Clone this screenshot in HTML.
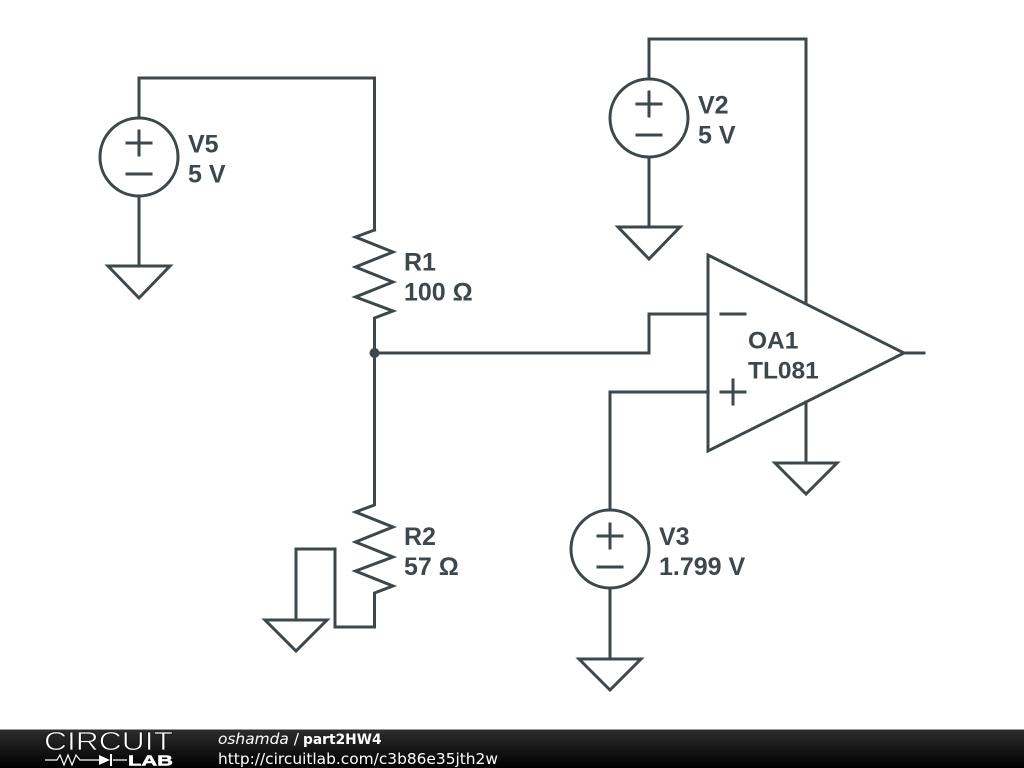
<!DOCTYPE html>
<html><head><meta charset="utf-8"><style>
html,body{margin:0;padding:0;background:#fff}
svg{display:block}
.w{fill:none;stroke:#3d474c;stroke-width:3;stroke-linejoin:miter;stroke-linecap:square}
.t{font-family:"Liberation Sans",sans-serif;font-weight:bold;font-size:25px;fill:#3d474c}
.o{font-size:24.500px}
.f{font-family:"DejaVu Sans",sans-serif;font-size:15.400px;fill:#fff}
</style></head><body>
<svg width="1024" height="768" viewBox="0 0 1024 768" xmlns="http://www.w3.org/2000/svg">
<defs><linearGradient id="g" x1="0" y1="0" x2="0" y2="1"><stop offset="0" stop-color="#2e2e2e"/><stop offset="1" stop-color="#000"/></linearGradient></defs>
<rect width="1024" height="768" fill="#fff"/>
<!-- V5 -->
<path class="w" d="M139 118V78H374.500V230"/>
<circle class="w" cx="139" cy="157" r="39"/>
<path class="w" d="M127 143H151M139 131V155M127 174H151M139 196V266"/>
<path class="w" d="M108 266H170L139 298Z"/>
<text class="t" x="188" y="152.500">V5</text><text class="t" x="188" y="182.500">5 V</text>
<!-- R1 -->
<path class="w" d="M374.500 230L355.500 237L393 252L355.500 267L393 282L355.500 297L393 311L374.500 318V353"/>
<text class="t" x="404" y="270.500">R1</text><text class="t" x="404" y="300.500">100 Ω</text>
<circle cx="374.500" cy="353" r="5" fill="#3d474c"/>
<!-- R2 -->
<path class="w" d="M374.500 353V505L355.500 512L393 527L355.500 542L393 557L355.500 571L393 586L374.500 593V627H335V549H296V620"/>
<path class="w" d="M265 620H327L296 651Z"/>
<text class="t" x="404" y="545">R2</text><text class="t" x="404" y="575">57 Ω</text>
<!-- input wires -->
<path class="w" d="M374.500 353H649V314H708"/>
<path class="w" d="M708 392H610V510"/>
<!-- V3 -->
<circle class="w" cx="610" cy="549" r="39"/>
<path class="w" d="M598 536H622M610 524V548M598 567H622M610 588V659"/>
<path class="w" d="M579 659H641L610 690Z"/>
<text class="t" x="659" y="545">V3</text><text class="t" x="659" y="575">1.799 V</text>
<!-- V2 -->
<path class="w" d="M649 78V39H806V303"/>
<circle class="w" cx="649" cy="118" r="39"/>
<path class="w" d="M637 104H661M649 92V116M637 135H661M649 157V227"/>
<path class="w" d="M618 227H680L649 259Z"/>
<text class="t" x="698" y="113.500">V2</text><text class="t" x="698" y="143.500">5 V</text>
<!-- Opamp -->
<path class="w" d="M708 255V451L904 353Z"/>
<path class="w" d="M904 353H924M721 314H745M721 392H745M733 380V404M806 402V463"/>
<path class="w" d="M775 463H837L806 494Z"/>
<text class="t o" x="748" y="348.500">OA1</text><text class="t o" x="748" y="378.500">TL081</text>
<!-- Footer -->
<rect x="0" y="729" width="1024" height="39" fill="url(#g)"/>
<rect x="0" y="729" width="1024" height="1" fill="#999"/>
<text x="44" y="750" font-family="Liberation Sans,sans-serif" font-size="26" fill="#fff" stroke="#111" stroke-width=".7" textLength="129" lengthAdjust="spacingAndGlyphs">CIRCUIT</text>
<path d="M45 760H57L60 755L64 765L68 755L72 765L76 755L80 760H99M113 760H127" fill="none" stroke="#fff" stroke-width="1.200"/>
<path d="M99 755L110 760L99 765Z" fill="#fff"/><path d="M111 754V766" stroke="#fff" stroke-width="2"/>
<text x="128" y="765.500" font-family="Liberation Sans,sans-serif" font-weight="bold" font-size="15" fill="#fff" stroke="#fff" stroke-width=".5" textLength="45" lengthAdjust="spacingAndGlyphs">LAB</text>
<text class="f" x="218" y="744"><tspan font-style="oblique">oshamda</tspan> / </text>
<text class="f" x="303" y="744" font-weight="bold" style="font-size:13.800px">part2HW4</text>
<text class="f" x="218" y="764">http://circuitlab.com/c3b86e35jth2w</text>
</svg>
</body></html>
